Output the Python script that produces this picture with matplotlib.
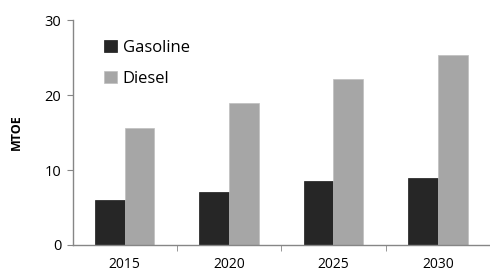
import numpy as np
import matplotlib
matplotlib.use('Agg')
from matplotlib import pyplot as plt

years = ['2015', '2020', '2025', '2030']
gasoline = [6.0, 7.1, 8.6, 9.0]
diesel = [15.6, 19.0, 22.2, 25.4]

plt.rcParams['font.family'] = ['Open Sans', 'DejaVu Sans']

fig = plt.figure(figsize=(4.9, 2.73), dpi=100)
ax = fig.add_axes([0.148, 0.1026, 0.852, 0.824])

x = np.arange(len(years))
w = 0.285
ax.bar(x - w / 2, gasoline, w, color='#262626', edgecolor='#1a1a1a', linewidth=0.5, label='Gasoline')
ax.bar(x + w / 2, diesel, w, color='#a6a6a6', edgecolor='#bfbfbf', linewidth=0.5, label='Diesel')

ax.set_xlim(-0.5, 3.5)
ax.set_ylim(0, 30)
ax.set_yticks([0, 10, 20, 30])
ax.set_xticks(x)
ax.set_xticklabels(years)
ax.set_xticks(np.arange(0.5, 4, 1), minor=True)
ax.tick_params(axis='x', which='major', length=0, pad=9, labelsize=10)
ax.tick_params(axis='x', which='minor', length=4, color='#868686', direction='out')
ax.tick_params(axis='y', length=4, color='#868686', labelsize=10.5, pad=4)

for s in ['top', 'right']:
    ax.spines[s].set_visible(False)
for s in ['left', 'bottom']:
    ax.spines[s].set_color('#868686')
    ax.spines[s].set_linewidth(1)

ax.set_ylabel('MTOE', fontsize=9, fontweight='bold', labelpad=16)

ax.legend(loc='upper left', bbox_to_anchor=(0.04, 0.98), frameon=False,
          fontsize=12, handlelength=0.75, handleheight=0.75, handletextpad=0.35,
          labelspacing=0.9)

fig.savefig('out.png', dpi=100)
